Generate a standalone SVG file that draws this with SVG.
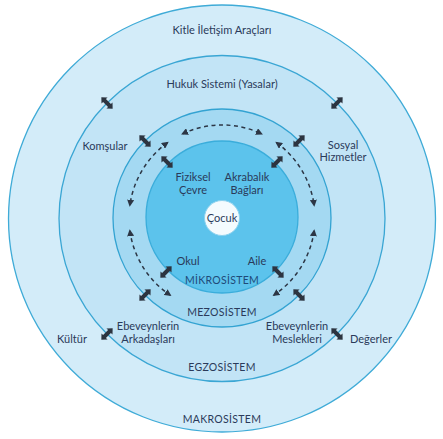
<svg xmlns="http://www.w3.org/2000/svg" xmlns:xlink="http://www.w3.org/1999/xlink" width="443" height="439" viewBox="0 0 443 439">
<style>
.t{font-family:Lato,"Open Sans","DejaVu Sans",sans-serif;font-size:11px;fill:#2a3a5a;text-anchor:middle}
.h{font-family:Lato,"Open Sans","DejaVu Sans",sans-serif;font-size:10.5px;fill:#2a3a5a;text-anchor:middle;letter-spacing:0.3px}
.m{fill:#1f4a78}
.ring{stroke-width:1.3}
.dash{fill:none;stroke:#2c3645;stroke-width:1.5;stroke-dasharray:4 3.5;marker-start:url(#ah);marker-end:url(#ah)}
.dbl{fill:#2c3440}
</style>
<defs>
<marker id="ah" viewBox="0 0 8 8" refX="6" refY="4" markerWidth="7" markerHeight="7" markerUnits="userSpaceOnUse" orient="auto-start-reverse">
<path d="M0,0 L8,4 L0,8 z" fill="#2c3645"/>
</marker>
<polygon id="dbl" class="dbl" points="-8,0 -3.5,-4.3 -3.5,-2 3.5,-2 3.5,-4.3 8,0 3.5,4.3 3.5,2 -3.5,2 -3.5,4.3"/>
</defs>
<rect width="443" height="439" fill="#ffffff"/>
<g id="makrosistem">
<circle class="ring" cx="222" cy="218.5" r="213.5" fill="#d3ecf9" stroke="#3fabd7"/>
<text class="t" x="222" y="33.5">Kitle İletişim Araçları</text>
<text class="t" x="72" y="342.5">Kültür</text>
<text class="t" x="371" y="342.5">Değerler</text>
<text class="h" x="222" y="423">MAKROSİSTEM</text>
</g>
<g id="egzosistem">
<circle class="ring" cx="222" cy="218.5" r="163" fill="#c2e4f6" stroke="#3aa6d4"/>
<text class="t" x="222" y="87.5">Hukuk Sistemi (Yasalar)</text>
<text class="t" x="105" y="149.5">Komşular</text>
<text class="t" x="343" y="148.5">Sosyal</text>
<text class="t" x="343" y="161">Hizmetler</text>
<text class="t" x="148" y="330">Ebeveynlerin</text>
<text class="t" x="148" y="342.5">Arkadaşları</text>
<text class="t" x="297" y="330">Ebeveynlerin</text>
<text class="t" x="297" y="342.5">Meslekleri</text>
<text class="h" x="222" y="371">EGZOSİSTEM</text>
</g>
<g id="mezosistem">
<circle class="ring" cx="222" cy="218" r="109" fill="#a4d9f2" stroke="#33a3d2"/>
<text class="h" x="222" y="316">MEZOSİSTEM</text>
</g>
<g id="mikrosistem">
<circle class="ring" cx="222" cy="217" r="76" fill="#5cc3ec" stroke="#3aaddb"/>
<text class="t" x="193" y="180.5">Fiziksel</text>
<text class="t" x="193" y="193.5">Çevre</text>
<text class="t" x="247" y="180.5">Akrabalık</text>
<text class="t" x="247" y="193.5">Bağları</text>
<text class="t" x="188" y="264.5">Okul</text>
<text class="t" x="257" y="264.5">Aile</text>
<text class="h m" x="222" y="284">MİKROSİSTEM</text>
</g>
<g id="cocuk">
<circle cx="222" cy="218" r="17.5" fill="#f4fbfe" stroke="#8ed2ee" stroke-width="1"/>
<text class="t" x="222" y="222">Çocuk</text>
</g>
<g id="connectors">
<path class="dash" d="M182.7,133.7 A93,93 0 0 1 261.3,133.7"/>
<path class="dash" d="M167.3,142.8 A93,93 0 0 0 129.9,205.1"/>
<path class="dash" d="M129.9,230.9 A93,93 0 0 0 170,295.1"/>
<path class="dash" d="M276.7,142.8 A93,93 0 0 1 314.1,205.1"/>
<path class="dash" d="M314.1,230.9 A93,93 0 0 1 274,295.1"/>
<use xlink:href="#dbl" transform="translate(107,103) rotate(45)"/>
<use xlink:href="#dbl" transform="translate(337,103) rotate(-45)"/>
<use xlink:href="#dbl" transform="translate(145,141) rotate(45)"/>
<use xlink:href="#dbl" transform="translate(299,141) rotate(-45)"/>
<use xlink:href="#dbl" transform="translate(167,162) rotate(45)"/>
<use xlink:href="#dbl" transform="translate(277,162) rotate(-45)"/>
<use xlink:href="#dbl" transform="translate(166,272) rotate(-45)"/>
<use xlink:href="#dbl" transform="translate(278,272) rotate(45)"/>
<use xlink:href="#dbl" transform="translate(145,295) rotate(-45)"/>
<use xlink:href="#dbl" transform="translate(299,295) rotate(45)"/>
<use xlink:href="#dbl" transform="translate(107,334) rotate(-45)"/>
<use xlink:href="#dbl" transform="translate(337,334) rotate(45)"/>
</g>
</svg>
